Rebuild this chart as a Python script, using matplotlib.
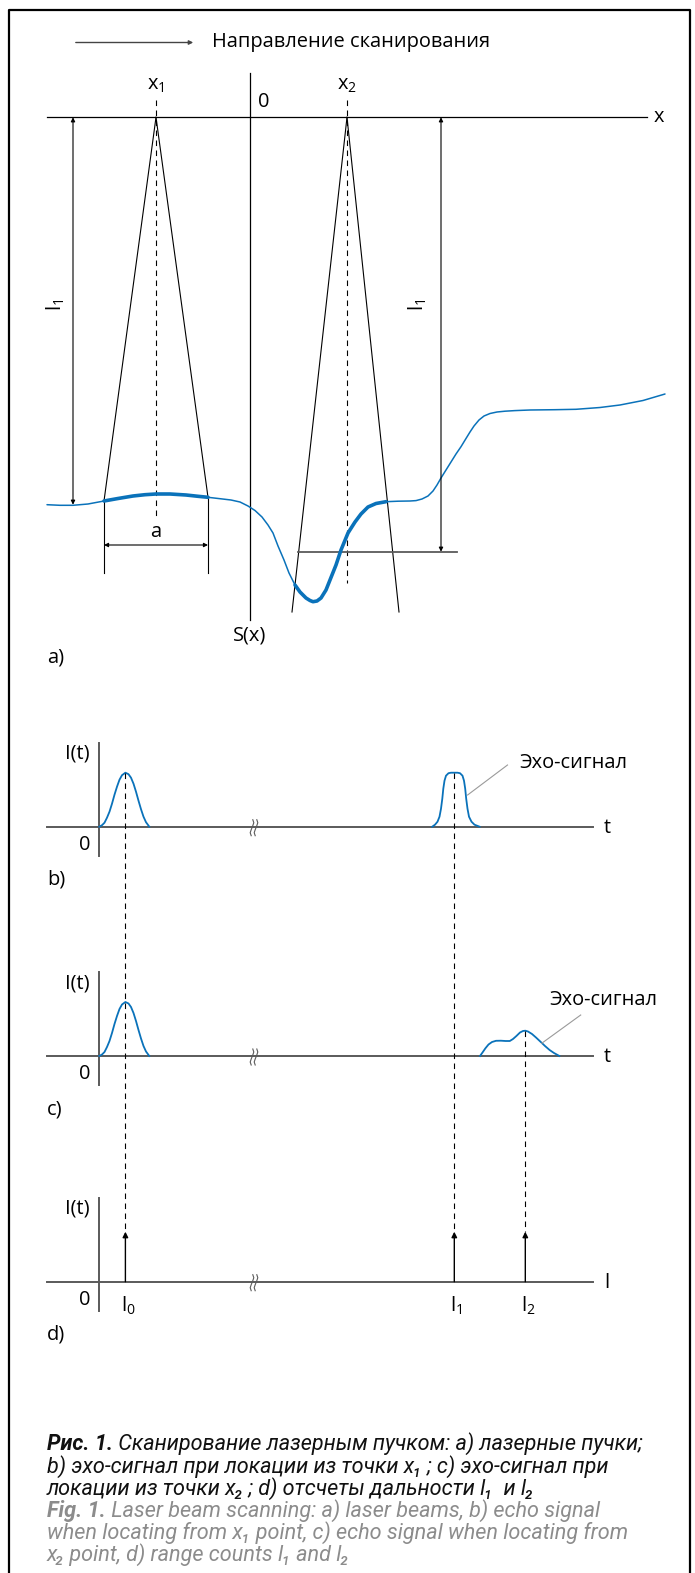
import matplotlib
matplotlib.use('Agg')
import matplotlib.pyplot as plt

W, H = 695, 1573
plt.rcParams['font.family'] = ['Open Sans', 'DejaVu Sans']
plt.rcParams['mathtext.fontset'] = 'custom'
plt.rcParams['mathtext.rm'] = 'Open Sans'
plt.rcParams['mathtext.default'] = 'regular'

BLUE = '#0a72ba'
GREY = '#5a5a5a'

# ---- panel a: surface profile S(x) (figure pixels)
surf_x = [47, 60, 73, 88, 104, 118, 133, 145, 156, 170, 186, 198, 208, 220, 231, 240, 248,
          255, 262, 268, 273, 278, 284, 289, 295, 300, 306, 310, 313, 317, 321, 326, 330,
          336, 341, 348, 355, 361, 368, 376, 386, 398, 410, 416, 422, 428, 433, 437, 441,
          446, 451, 456, 461, 466, 470, 474, 479, 484, 490, 497, 505, 515, 530, 555, 576,
          600, 620, 643, 665]
surf_y = [504.7, 505.3, 505.3, 504, 501, 498.5, 496, 494.7, 494, 494, 495, 496.3, 497.3,
          498.7, 500, 502, 506, 510.5, 517, 525, 533, 546, 560, 573, 585, 592, 598, 600.5,
          601.7, 601, 598, 590, 580, 565, 550, 533, 522, 514, 507, 503.5, 501.7, 501.2, 501,
          500.6, 499, 496, 491, 485, 478, 470, 462, 454, 446.7, 438.5, 432, 426, 420, 416,
          413.5, 412, 411.2, 410.6, 410, 409.7, 409.3, 407.5, 405, 400.5, 394]
thick_spans = [(104, 208), (295, 386)]

x_axis_y = 117.3
s_axis_x = 250
beam_x = [156, 347]             # x1, x2
beam1_ends = [(104, 501), (208, 497.3)]
beam2_ends = [(292, 612), (399, 612)]
dim_bottom = 573
a_dim_y = 545
l1_left_x, l1_right_x = 73, 441
l1_left_end, l1_right_end = 504.7, 551.7
ref_line = (298, 456.6)

# ---- panels b, c, d
base_y = [826.7, 1056, 1281.7]
pulse_x = [99.3, 102, 104.5, 107, 109.5, 112, 114.5, 117, 119.5, 122, 125.4, 128.5, 131,
           133.5, 136, 138.5, 141, 143.5, 146, 149.3]
pulse_h = [0, 1.5, 4, 9, 15, 23, 32, 40, 47, 51.5, 54, 52.5, 49, 43, 35, 26, 17.5, 10, 4.5, 0]
echo_b_x = [432.2, 435, 437.5, 439.5, 441, 442.3, 443.3, 444.5, 446, 448.5, 451, 454.3,
            457.5, 460, 462.5, 464, 465.2, 466.2, 467.5, 469, 471.5, 474.5, 479.6]
echo_b_h = [0, 2, 5, 10, 18, 28, 38, 46, 51, 53.5, 54, 54, 54, 53.5, 51, 46, 38, 28, 18, 10,
            5, 2, 0]
echo_c_x = [480, 482.5, 485.4, 488.5, 492, 496, 500.9, 505.5, 509.8, 513, 516.4, 520, 523,
            525.3, 528, 532, 536, 540.8, 545, 549.6, 554, 559.4]
echo_c_h = [0, 3.5, 7.7, 11.5, 14, 15.2, 15.3, 15, 15, 17, 20, 23.5, 25, 25.3, 24.5, 22,
            18.5, 14, 10, 6, 3, 0]
count_x = [125.4, 454.3, 525.3]
count_labels = ['l$_0$', 'l$_1$', 'l$_2$']
count_h = 50
panel_labels = ['b)', 'c)', 'd)']
axis_end_labels = ['t', 't', 'l']

caption_ru = [[('Рис. 1.', 'bold'), (' Сканирование лазерным пучком: a) лазерные пучки;', 'normal')],
              [('b) эхо-сигнал при локации из точки x₁ ; c) эхо-сигнал при', 'normal')],
              [('локации из точки x₂ ; d) отсчеты дальности l₁  и l₂', 'normal')]]
caption_en = [[('Fig. 1.', 'bold'), (' Laser beam scanning: a) laser beams, b) echo signal', 'normal')],
              [('when locating from x₁ point, c) echo signal when locating from', 'normal')],
              [('x₂ point, d) range counts l₁ and l₂', 'normal')]]

fig = plt.figure(figsize=(W / 100, H / 100), dpi=100)
ax = fig.add_axes([0, 0, 1, 1])
ax.set_xlim(0, W)
ax.set_ylim(H, 0)
ax.axis('off')

FS = 14.4
# frame
ax.plot([8.5, 8.5, 690, 690], [H + 5, 9.5, 9.5, H + 5], color='black', lw=1.6)

# scanning direction
ax.annotate('', xy=(196, 42.5), xytext=(73, 42.5),
            arrowprops=dict(arrowstyle='-|>', color='#444444', lw=1, mutation_scale=6))
ax.text(212, 42.5, 'Направление сканирования', fontsize=FS, va='center', ha='left')

# axes of panel a
ax.plot([46.5, 647], [x_axis_y, x_axis_y], color='black', lw=0.9)
ax.plot([s_axis_x, s_axis_x], [73, 620], color='black', lw=0.9)
ax.text(654, x_axis_y, 'x', fontsize=FS, va='center', ha='left')
ax.text(258, 102, '0', fontsize=FS, va='center', ha='left')
ax.text(s_axis_x, 636, 'S(x)', fontsize=FS, va='center', ha='center')
ax.text(47, 658, 'a)', fontsize=FS, va='center', ha='left')

# beams
for (bx, ends) in zip(beam_x, [beam1_ends, beam2_ends]):
    for ex, ey in ends:
        ax.plot([bx, ex], [x_axis_y, ey], color='black', lw=0.8)
ax.text(beam_x[0], 85, 'x$_1$', fontsize=FS, va='center', ha='center')
ax.text(beam_x[1], 85, 'x$_2$', fontsize=FS, va='center', ha='center')
ax.plot([beam_x[0]] * 2, [100, 518], color='black', lw=0.8, ls=(0, (5, 4)))
ax.plot([beam_x[1]] * 2, [100, 583], color='black', lw=0.8, ls=(0, (5, 4)))

# dimension a
for ex, ey in beam1_ends:
    ax.plot([ex, ex], [ey, dim_bottom], color='black', lw=0.8)
ax.annotate('', xy=(beam1_ends[0][0], a_dim_y), xytext=(beam1_ends[1][0], a_dim_y),
            arrowprops=dict(arrowstyle='<|-|>', color='black', lw=0.8, mutation_scale=6,
                            shrinkA=0, shrinkB=0))
ax.text(beam_x[0], 532, 'a', fontsize=FS, va='center', ha='center')

# l1 distances
for lx, ly in [(l1_left_x, l1_left_end), (l1_right_x, l1_right_end)]:
    ax.annotate('', xy=(lx, x_axis_y), xytext=(lx, ly),
                arrowprops=dict(arrowstyle='<|-|>', color='black', lw=0.8, mutation_scale=6,
                                shrinkA=0, shrinkB=0))
ax.text(56, 305, 'l$_1$', fontsize=FS, rotation=90, va='center', ha='center')
ax.text(418, 305, 'l$_1$', fontsize=FS, rotation=90, va='center', ha='center')
ax.plot(list(ref_line), [l1_right_end, l1_right_end], color=GREY, lw=1.3)

# surface
ax.plot(surf_x, surf_y, color=BLUE, lw=1.1, solid_capstyle='round')
for x0, x1 in thick_spans:
    idx = [i for i, v in enumerate(surf_x) if x0 <= v <= x1]
    ax.plot([surf_x[i] for i in idx], [surf_y[i] for i in idx], color=BLUE, lw=2.6,
            solid_capstyle='round', solid_joinstyle='round')


def break_mark(xc, yc):
    dy = [-8, -5, -2, 2, 5, 8]
    dx = [0.8, 1.8, 0.8, -0.8, -1.8, -0.8]
    for off in (-2, 2):
        ax.plot([xc + off + d for d in dx], [yc + d for d in dy], color=GREY, lw=0.8)


for k, by in enumerate(base_y):
    ax.plot([47.4, 593], [by, by], color=GREY, lw=1.4)
    ax.plot([98.8, 98.8], [by - 84, by + 29], color=GREY, lw=1.4)
    ax.text(607, by + 1, axis_end_labels[k], fontsize=FS, va='center', ha='center')
    ax.text(77.5, by - 73, 'I(t)', fontsize=FS, va='center', ha='center')
    ax.text(85, by + 18, '0', fontsize=FS, va='center', ha='center')
    ax.text(47, by + 53, panel_labels[k], fontsize=FS, va='center', ha='left')
    break_mark(254, by + 1)
    if k < 2:
        ax.plot(pulse_x, [by - h for h in pulse_h], color=BLUE, lw=1.3)

ax.plot(echo_b_x, [base_y[0] - h for h in echo_b_h], color=BLUE, lw=1.3)
ax.plot(echo_c_x, [base_y[1] - h for h in echo_c_h], color=BLUE, lw=1.3)

# dashed projections and range counts
for cx, top in zip(count_x, [base_y[0] - max(pulse_h), base_y[0] - max(echo_b_h),
                             base_y[1] - max(echo_c_h)]):
    ax.plot([cx, cx], [top, base_y[2] - count_h], color='black', lw=0.8, ls=(0, (5, 4)))
    ax.annotate('', xy=(cx, base_y[2] - count_h), xytext=(cx, base_y[2]),
                arrowprops=dict(arrowstyle='-|>', color='black', lw=1.0, mutation_scale=8,
                                shrinkA=0, shrinkB=0))
for cx, lab in zip(count_x, count_labels):
    ax.text(cx - 4, base_y[2] + 24, lab, fontsize=FS, va='center', ha='left')

# echo labels with leaders
ax.text(519.5, 763, 'Эхо-сигнал', fontsize=FS, va='center', ha='left')
ax.plot([507.5, 467.6], [765, 795], color='#9a9a9a', lw=0.8)
ax.text(549.6, 1000, 'Эхо-сигнал', fontsize=FS, va='center', ha='left')
ax.plot([580.7, 541.7], [1015, 1043.3], color='#9a9a9a', lw=0.8)

# caption
fig.canvas.draw()
rend = fig.canvas.get_renderer()
cap_font = ['Roboto', 'DejaVu Sans']


def rich_line(y, parts, color):
    x = 47
    for txt, weight in parts:
        t = ax.text(x, y, txt, fontsize=15.6, color=color, style='italic', weight=weight,
                    family=cap_font, ha='left', va='baseline')
        bb = t.get_window_extent(renderer=rend)
        x = ax.transData.inverted().transform((bb.x1, bb.y0))[0]


ys = [1450, 1472.5, 1495, 1517, 1539, 1561]
for y, parts in zip(ys[:3], caption_ru):
    rich_line(y, parts, '#111111')
for y, parts in zip(ys[3:], caption_en):
    rich_line(y, parts, '#8c8c8c')

fig.savefig('out.png', dpi=100)
